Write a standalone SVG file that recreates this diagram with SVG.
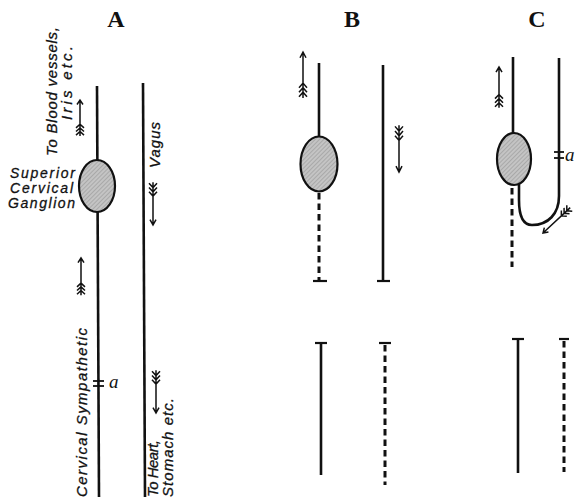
<svg xmlns="http://www.w3.org/2000/svg" width="579" height="499" viewBox="0 0 579 499">
<style>
.nerve{stroke:#111;stroke-width:2.6;fill:none;stroke-linecap:butt}
.dash{stroke:#111;stroke-width:3;fill:none;stroke-dasharray:6.5 4}
.bar{stroke:#111;stroke-width:2.2}
.tick{stroke:#111;stroke-width:1.8}
.gang{fill:url(#hatch);stroke:#111;stroke-width:2.2}
.lbl{font-family:"Liberation Sans",Arial,sans-serif;font-style:italic;font-size:15px;fill:#111;stroke:#111;stroke-width:0.3}
.head{font-family:"Liberation Serif","Times New Roman",serif;font-weight:bold;font-size:24px;fill:#111;text-anchor:middle}
.ital{font-family:"Liberation Serif","Times New Roman",serif;font-style:italic;font-size:19px;fill:#111}
.arr{stroke:#111;stroke-width:1.5;fill:none}
</style>
<defs>
<pattern id="hatch" width="3" height="3" patternUnits="userSpaceOnUse" patternTransform="rotate(45)">
<rect width="3" height="3" fill="#c4c4c4"/>
<line x1="0" y1="0" x2="0" y2="3" stroke="#8e8e8e" stroke-width="1"/>
</pattern>
<g id="arw">
<path class="arr" vector-effect="non-scaling-stroke" d="M0,0 V40 M-3,5 L0,0 L3,5 M-4,31 L0,27 L4,31 M-4,35 L0,31 L4,35 M-4,39 L0,35 L4,39"/>
</g>
</defs>
<rect width="579" height="499" fill="#fff"/>

<g id="connectors">
<!-- Panel A -->
<line class="nerve" x1="97" y1="86" x2="99" y2="497"/>
<line class="nerve" x1="143" y1="83" x2="145" y2="497"/>
<!-- Panel B -->
<line class="nerve" x1="319" y1="63" x2="319" y2="137"/>
<line class="dash" x1="319" y1="193" x2="319" y2="280"/>
<line class="bar" x1="313" y1="281" x2="327" y2="281"/>
<line class="nerve" x1="383" y1="65" x2="383" y2="281"/>
<line class="bar" x1="377" y1="281" x2="390" y2="281"/>
<line class="nerve" x1="321" y1="343" x2="321" y2="475"/>
<line class="bar" x1="315" y1="343" x2="327" y2="343"/>
<line class="dash" x1="385" y1="345" x2="385" y2="485"/>
<line class="bar" x1="379" y1="343" x2="391" y2="343"/>
<!-- Panel C -->
<line class="nerve" x1="513" y1="57" x2="513" y2="134"/>
<line class="dash" x1="512" y1="188" x2="512" y2="267"/>
<path class="nerve" d="M559,58 V196 C559,214 548,225 532,225 C522,225 519,214 519,200 V184"/>
<line class="nerve" x1="518" y1="339" x2="518" y2="473"/>
<line class="bar" x1="512" y1="339" x2="524" y2="339"/>
<line class="dash" x1="564" y1="341" x2="564" y2="472"/>
<line class="bar" x1="559" y1="339" x2="569" y2="339"/>
<!-- ticks a -->
<line class="tick" x1="93" y1="381" x2="104" y2="381"/>
<line class="tick" x1="93" y1="386" x2="104" y2="386"/>
<line class="tick" x1="554" y1="152" x2="564" y2="152"/>
<line class="tick" x1="554" y1="158" x2="564" y2="158"/>
<!-- impulse arrows -->
<use href="#arw" transform="translate(80,100) scale(1,0.9)"/>
<use href="#arw" transform="translate(81,258) scale(1,0.93)"/>
<use href="#arw" transform="translate(153,225) rotate(180) scale(1,1.07)"/>
<use href="#arw" transform="translate(156,413) rotate(180) scale(1,1.07)"/>
<use href="#arw" transform="translate(303,52) scale(1,1.15)"/>
<use href="#arw" transform="translate(399,172) rotate(180) scale(1,1.17)"/>
<use href="#arw" transform="translate(499,67) scale(1,1.02)"/>
<use href="#arw" transform="translate(543,233) rotate(-133) scale(1,0.93)"/>
</g>

<g id="ganglion-A"><ellipse class="gang" cx="97" cy="186" rx="18" ry="26"/></g>
<g id="ganglion-B"><ellipse class="gang" cx="319" cy="164" rx="18.5" ry="27.5"/></g>
<g id="ganglion-C"><ellipse class="gang" cx="514" cy="159" rx="17" ry="26"/></g>

<g id="headings">
<text class="head" x="116" y="27">A</text>
<text class="head" x="352" y="27">B</text>
<text class="head" x="537" y="27">C</text>
</g>

<g id="labels">
<text class="lbl" transform="translate(57,156) rotate(-90)" textLength="129" lengthAdjust="spacing">To Blood vessels,</text>
<text class="lbl" transform="translate(72,120) rotate(-90)" textLength="74" lengthAdjust="spacing">Iris etc.</text>
<text class="lbl" x="10" y="178" textLength="65" lengthAdjust="spacing" style="font-size:14px">Superior</text>
<text class="lbl" x="10" y="193" textLength="63" lengthAdjust="spacing" style="font-size:14px">Cervical</text>
<text class="lbl" x="8" y="208" textLength="67" lengthAdjust="spacing" style="font-size:14px">Ganglion</text>
<text class="lbl" transform="translate(160,168) rotate(-90)" textLength="46" lengthAdjust="spacing">Vagus</text>
<text class="lbl" transform="translate(87,497) rotate(-90)" textLength="169" lengthAdjust="spacing">Cervical  Sympathetic</text>
<text class="lbl" transform="translate(158,497) rotate(-90)" textLength="57" lengthAdjust="spacing">To Heart,</text>
<text class="lbl" transform="translate(173,497) rotate(-90)" textLength="99" lengthAdjust="spacing">Stomach etc.</text>
<text class="ital" x="109" y="388">a</text>
<text class="ital" x="565" y="161">a</text>
</g>
</svg>
